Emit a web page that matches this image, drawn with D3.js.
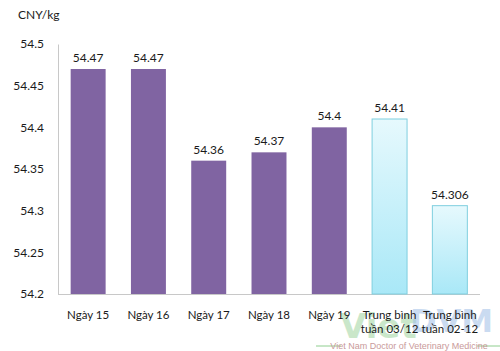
<!DOCTYPE html>
<html><head><meta charset="utf-8">
<script src="https://cdn.jsdelivr.net/npm/d3@7"></script>
<style>body{margin:0;background:#fff}svg{display:block}</style>
</head><body>
<script>
const categories = [["Ngày 15"],["Ngày 16"],["Ngày 17"],["Ngày 18"],["Ngày 19"],["Trung bình","tuần 03/12"],["Trung bình","tuần 02-12"]];
const values = [54.47, 54.47, 54.36, 54.37, 54.4, 54.41, 54.306];
const valueLabels = ["54.47","54.47","54.36","54.37","54.4","54.41","54.306"];
const barType = ["day","day","day","day","day","avg","avg"];
const yTicks = [54.2, 54.25, 54.3, 54.35, 54.4, 54.45, 54.5];
const yTickLabels = ["54.2","54.25","54.3","54.35","54.4","54.45","54.5"];
const unitLabel = "CNY/kg";

(function(){
const W = 500, H = 351;
const font = "Lato, 'Open Sans', sans-serif";
const svg = d3.select("body").append("svg").attr("width", W).attr("height", H);

const defs = svg.append("defs");
const g = defs.append("linearGradient").attr("id","avgGrad").attr("x1",0).attr("y1",0).attr("x2",0).attr("y2",1);
g.append("stop").attr("offset","0%").attr("stop-color","#e6f9fd");
g.append("stop").attr("offset","100%").attr("stop-color","#a9e8f7");

const pl = 58, pr = 480, pt = 44, pb = 294;
const x = d3.scaleBand().domain(d3.range(categories.length)).range([pl, pr]).paddingInner(0.42).paddingOuter(0.21);
const y = d3.scaleLinear().domain([54.2, 54.5]).range([pb, pt]);

const yAxis = d3.axisLeft(y).tickValues(yTicks).tickFormat((d,i)=>yTickLabels[i]).tickSize(0).tickPadding(14);
const ya = svg.append("g").attr("transform",`translate(${pl},0)`).call(yAxis);
ya.select(".domain").attr("stroke","#c8c8c8");
ya.selectAll("text").attr("font-family",font).attr("font-size",12).attr("fill","#1a1a1a");

svg.append("line").attr("x1",pl).attr("x2",pr).attr("y1",pb+0.5).attr("y2",pb+0.5).attr("stroke","#c8c8c8");

svg.selectAll("rect.bar").data(values).join("rect").attr("class","bar")
  .attr("x",(d,i)=>x(i)).attr("width",x.bandwidth())
  .attr("y",d=>y(d)).attr("height",d=>pb - y(d))
  .attr("fill",(d,i)=>barType[i]==="day" ? "#8064a2" : "url(#avgGrad)")
  .attr("stroke",(d,i)=>barType[i]==="day" ? "none" : "#7fcfdf")
  .attr("stroke-width",1);

svg.selectAll("text.val").data(values).join("text").attr("class","val")
  .attr("x",(d,i)=>x(i)+x.bandwidth()/2).attr("y",d=>y(d)-7)
  .attr("text-anchor","middle").attr("font-family",font).attr("font-size",12).attr("fill","#1a1a1a")
  .text((d,i)=>valueLabels[i]);

svg.append("text").attr("x",340).attr("y",338).attr("font-family","'DejaVu Sans', sans-serif").attr("font-size",34).attr("font-weight","bold")
  .attr("fill","#9fd59f").attr("opacity",0.55).text("Viet");
svg.append("text").attr("x",410).attr("y",332).attr("font-family","'DejaVu Sans', sans-serif").attr("font-size",32).attr("font-weight","bold")
  .attr("fill","#9fbfe6").attr("opacity",0.55).text("DVM");

const xl = svg.selectAll("text.xl").data(categories).join("text").attr("class","xl")
  .attr("x",(d,i)=>x(i)+x.bandwidth()/2).attr("y",319)
  .attr("text-anchor","middle").attr("font-family",font).attr("font-size",11.5).attr("fill","#1a1a1a");
xl.each(function(d){
  const t = d3.select(this);
  d.forEach((line,j)=>t.append("tspan").attr("x",t.attr("x")).attr("dy", j===0?0:14).text(line));
});

svg.append("line").attr("x1",316).attr("x2",341).attr("y1",346).attr("y2",346).attr("stroke","#8fce8f").attr("stroke-width",1);
svg.append("line").attr("x1",477).attr("x2",500).attr("y1",346).attr("y2",346).attr("stroke","#8fce8f").attr("stroke-width",1);
svg.append("text").attr("x",409).attr("y",349).attr("text-anchor","middle").attr("font-family","'Liberation Sans Narrow', 'Liberation Sans', sans-serif").attr("font-size",9)
  .attr("fill","#c99a9a").text("Viet Nam Doctor of Veterinary Medicine");

svg.append("text").attr("x",18).attr("y",19).attr("font-family",font).attr("font-size",12).attr("fill","#1a1a1a").text(unitLabel);
})();
</script>
</body></html>
